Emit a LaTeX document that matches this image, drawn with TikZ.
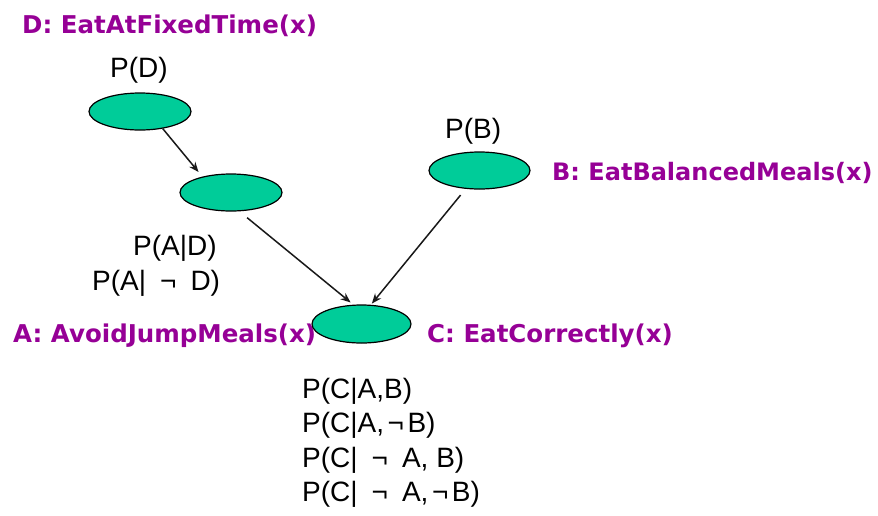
\documentclass[tikz,border=0pt]{standalone}
\usepackage{fontspec}
\setmainfont{Liberation Sans}
\newfontfamily\lblfont{DejaVu Sans}
\usetikzlibrary{shapes.geometric,arrows.meta}
\definecolor{nodegreen}{RGB}{0,204,153}
\definecolor{lblpurple}{RGB}{150,0,150}
\newcommand{\wsp}{\hspace{14pt}}
\newcommand{\nsp}{\hspace{3.5pt}}
\tikzset{
  bn/.style={ellipse,draw=black,line width=1.2pt,fill=nodegreen,inner sep=0pt},
  vname/.style={inner sep=0pt,anchor=base west,text=lblpurple,font=\lblfont\bfseries\fontsize{24.5}{28}\selectfont},
  prob/.style={inner sep=0pt,anchor=base west,text=black,font=\fontsize{28}{32}\selectfont},
  edge/.style={line width=1.5pt,draw=black!90,-{Stealth[length=10pt,width=8pt]}}
}
\begin{document}
\begin{tikzpicture}[x=1pt,y=-1pt]
\useasboundingbox[fill=white] (0,0) rectangle (878,515);
% variable names
\node[vname] (dlbl) at (22,33) {D: EatAtFixedTime(x)};
\node[vname,font=\lblfont\bfseries\fontsize{24}{28}\selectfont] (blbl) at (552,180) {B: EatBalancedMeals(x)};
\node[vname] (albl) at (13,342) {A: AvoidJumpMeals(x)};
\node[vname] (clbl) at (427,342) {C: EatCorrectly(x)};
% probability tables
\node[prob] (pd) at (110,77) {P(D)};
\node[prob] (pb) at (445,138) {P(B)};
\node[prob] (pad) at (133,255) {P(A|D)};
\node[prob] (pand) at (92,290) {P(A|\wsp¬\wsp D)};
\node[prob] (pc1) at (302,398) {P(C|A,B)};
\node[prob] (pc2) at (302,432) {P(C|A,\nsp¬\nsp B)};
\node[prob] (pc3) at (302,467) {P(C|\wsp¬\wsp A, B)};
\node[prob] (pc4) at (302,501) {P(C|\wsp¬\wsp A,\nsp¬\nsp B)};
% network nodes
\node[bn,minimum width=102pt,minimum height=37pt] (D) at (140,111.5) {};
\node[bn,minimum width=102pt,minimum height=37pt] (A) at (231,192.5) {};
\node[bn,minimum width=101pt,minimum height=37pt] (B) at (479.5,170.5) {};
\node[bn,minimum width=99pt,minimum height=38pt] (C) at (361.5,324) {};
% edges
\draw[edge,shorten >=6pt] (D.-37) -- (A.151);
\draw[edge,shorten <=10pt,shorten >=3.5pt] (A.-66) -- (C.113);
\draw[edge,shorten <=8pt,shorten >=1.5pt] (B.-127) -- (C.64.6);
\end{tikzpicture}
\end{document}
